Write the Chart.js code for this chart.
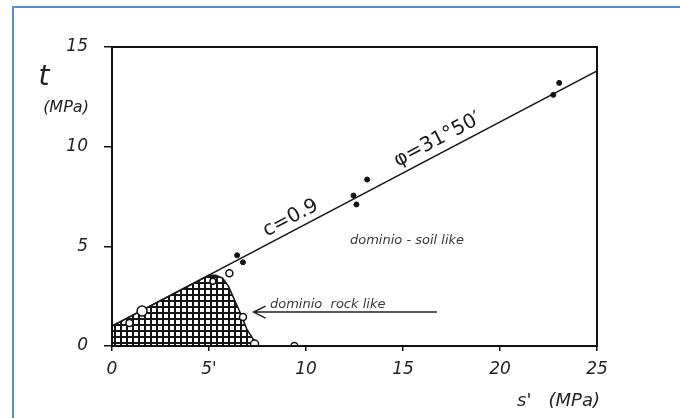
<!DOCTYPE html>
<html>
<head>
<meta charset="utf-8">
<script src="https://cdn.jsdelivr.net/npm/chart.js@4.4.0/dist/chart.umd.min.js"></script>
<style>
html, body { margin: 0; padding: 0; background: #fff; }
#wrap { position: relative; width: 680px; height: 418px; }
</style>
</head>
<body>
<div id="wrap"><canvas id="chart" width="680" height="418"></canvas></div>
<script>
// values (s' and t in MPa)
const xTicks = [0, 5, 10, 15, 20, 25];
const xTickLabels = ['0', "5'", '10', '15', '20', '25'];
const yTicks = [0, 5, 10, 15];

const envelopeS = [0, 25];
const envelopeT = [1.0, 13.8];

const soilS = [6.45, 6.75, 12.45, 12.6, 13.15, 22.75, 23.05];
const soilT = [4.55, 4.2, 7.55, 7.1, 8.35, 12.6, 13.2];

const rockS = [0.9, 1.55, 5.2, 6.05, 6.75, 7.35, 9.4];
const rockT = [1.15, 1.75, 3.25, 3.65, 1.45, 0.1, 0];
const rockSize = [3.5, 5, 3, 3.5, 3.5, 4, 3.5];

const domainS = [0, 5.0, 5.35, 5.7, 6.0, 6.25, 6.55, 6.95, 7.5];
const domainT = [1.0, 3.55, 3.55, 3.4, 3.0, 2.45, 1.8, 0.85, 0];

function pts(xs, ys) {
    return xs.map((x, i) => ({ x: x, y: ys[i] }));
}

function gridPattern() {
    let c = document.createElement('canvas');
    c.width = 6; c.height = 6;
    let g = c.getContext('2d');
    g.fillStyle = '#fff';
    g.fillRect(0, 0, 6, 6);
    g.fillStyle = '#151515';
    g.fillRect(0, 0, 6, 2);
    g.fillRect(0, 0, 2, 6);
    return g.createPattern(c, 'repeat');
}

const tickFont = { family: '"DejaVu Sans"', size: 17, style: 'italic' };

const framePlugin = {
    id: 'frame',
    beforeDraw(chart) {
        let ctx = chart.ctx;
        ctx.save();
        ctx.strokeStyle = '#5a8ad0';
        ctx.lineWidth = 2;
        ctx.strokeRect(13, 7, 700, 440);
        ctx.restore();
    },
    afterDatasetsDraw(chart) {
        let ctx = chart.ctx;
        let a = chart.chartArea;
        let xs = chart.scales.x, ys = chart.scales.y;
        ctx.save();
        ctx.strokeStyle = '#111';
        ctx.lineWidth = 2;
        ctx.strokeRect(a.left, a.top, a.right - a.left, a.bottom - a.top);

        // axis names
        ctx.fillStyle = '#222';
        ctx.textAlign = 'center';
        ctx.textBaseline = 'middle';
        ctx.font = 'italic 28px "DejaVu Sans"';
        ctx.fillText('t', 44, 78);
        ctx.font = 'italic 16px "DejaVu Sans"';
        ctx.fillText('(MPa)', 66, 108);
        ctx.textAlign = 'right';
        ctx.font = 'italic 18px "DejaVu Sans"';
        ctx.fillText("s'   (MPa)", 600, 401);

        // labels along the envelope
        let x0 = xs.getPixelForValue(envelopeS[0]), y0 = ys.getPixelForValue(envelopeT[0]);
        let x1 = xs.getPixelForValue(envelopeS[1]), y1 = ys.getPixelForValue(envelopeT[1]);
        let ang = Math.atan2(y1 - y0, x1 - x0);
        function onLine(s, txt, off) {
            let t = envelopeT[0] + (envelopeT[1] - envelopeT[0]) * (s - envelopeS[0]) / (envelopeS[1] - envelopeS[0]);
            ctx.save();
            ctx.translate(xs.getPixelForValue(s), ys.getPixelForValue(t));
            ctx.rotate(ang);
            ctx.textAlign = 'center';
            ctx.textBaseline = 'alphabetic';
            ctx.fillText(txt, 0, -off);
            ctx.restore();
        }
        ctx.font = '20px "DejaVu Sans"';
        ctx.fillStyle = '#1a1a1a';
        onLine(9.5, 'c=0.9', 7);
        onLine(17.1, "\u03C6=31\u00B050\u2032", 8);

        // domain captions
        ctx.fillStyle = '#3a3a3a';
        ctx.font = 'italic 13px "DejaVu Sans"';
        ctx.textAlign = 'left';
        ctx.textBaseline = 'middle';
        ctx.fillText('dominio - soil like', 350, 241);
        ctx.textBaseline = 'alphabetic';
        ctx.fillText('dominio  rock like', 270, 308);

        // arrow under rock caption
        let ay = ys.getPixelForValue(1.7);
        let ax = xs.getPixelForValue(7.3);
        ctx.strokeStyle = '#222';
        ctx.lineWidth = 1.5;
        ctx.beginPath();
        ctx.moveTo(ax, ay);
        ctx.lineTo(xs.getPixelForValue(16.75), ay);
        ctx.moveTo(ax + 12, ay - 6);
        ctx.lineTo(ax, ay);
        ctx.lineTo(ax + 12, ay + 6);
        ctx.stroke();
        ctx.restore();
    }
};

let ctx = document.getElementById('chart');
let chart = new Chart(ctx, {
    type: 'scatter',
    data: {
        datasets: [{
            label: 'dominio rock like',
            data: pts(domainS, domainT),
            showLine: true,
            fill: 'origin',
            backgroundColor: gridPattern(),
            borderColor: '#1a1a1a',
            borderWidth: 1.5,
            tension: 0,
            pointRadius: 0,
            order: 3
        }, {
            label: 'inviluppo',
            data: pts(envelopeS, envelopeT),
            showLine: true,
            borderColor: '#1a1a1a',
            borderWidth: 1.6,
            pointRadius: 0,
            order: 2
        }, {
            label: 'soil like',
            data: pts(soilS, soilT),
            pointRadius: 2.5,
            pointBackgroundColor: '#111',
            pointBorderColor: '#111',
            order: 1
        }, {
            label: 'rock like',
            data: pts(rockS, rockT),
            pointRadius: rockSize,
            pointBackgroundColor: '#fff',
            pointBorderColor: '#111',
            pointBorderWidth: 1.5,
            order: 0
        }]
    },
    options: {
        responsive: false,
        animation: false,
        layout: { padding: { left: 0, top: 47, right: 83, bottom: 0 } },
        plugins: {
            legend: { display: false },
            tooltip: { enabled: false }
        },
        scales: {
            x: {
                type: 'linear',
                min: 0,
                max: 25,
                afterBuildTicks: s => { s.ticks = xTicks.map(v => ({ value: v })); },
                afterFit: s => { s.height = 72; },
                ticks: {
                    font: tickFont,
                    color: '#222',
                    padding: 8,
                    maxRotation: 0,
                    callback: v => xTickLabels[xTicks.indexOf(v)]
                },
                grid: { drawOnChartArea: false, tickLength: 5, color: '#111', lineWidth: 1.5 },
                border: { color: '#111', width: 2 }
            },
            y: {
                type: 'linear',
                min: 0,
                max: 15,
                afterBuildTicks: s => { s.ticks = yTicks.map(v => ({ value: v })); },
                afterFit: s => { s.width = 112; },
                ticks: {
                    font: tickFont,
                    color: '#222',
                    padding: 16
                },
                grid: { drawOnChartArea: false, tickLength: 8, color: '#111', lineWidth: 1.5 },
                border: { color: '#111', width: 2 }
            }
        }
    },
    plugins: [framePlugin]
});
</script>
</body>
</html>
